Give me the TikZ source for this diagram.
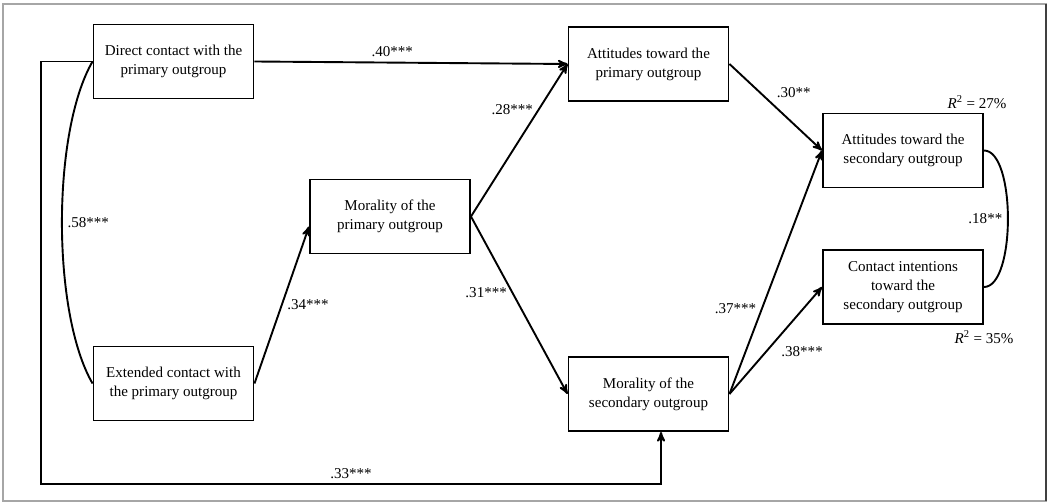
\documentclass[tikz,border=0pt]{standalone}
\usepackage{fontspec}
\setmainfont{Liberation Serif}
\usetikzlibrary{arrows}

\begin{document}
\begin{tikzpicture}[->,>=stealth',x=0.025cm,y=-0.025cm,line width=1.35pt,
  var node/.style={rectangle,draw,align=center,minimum width=4cm,minimum height=1.85cm,
    font=\fontsize{10.7}{13.5}\selectfont}]
  \useasboundingbox (0,0) rectangle (1049,503);
  \draw[-,gray!70,line width=0.8pt] (3,4) rectangle (1046,501);
  \draw[-,black!75,line width=0.9pt] (1046,4) -- (1046,501);

  \node[var node] (dc) at (173.5,61.5) {Direct contact with the\\primary outgroup};
  \node[var node] (ec) at (173.5,383.5) {Extended contact with\\the primary outgroup};
  \node[var node] (mp) at (390,216.5) {Morality of the\\primary outgroup};
  \node[var node] (ap) at (648.5,64) {Attitudes toward the\\primary outgroup};
  \node[var node] (ms) at (648.5,394) {Morality of the\\secondary outgroup};
  \node[var node] (as) at (903,150.5) {Attitudes toward the\\secondary outgroup};
  \node[var node] (ci) at (903,287) {Contact intentions\\toward the\\secondary outgroup};
  \coordinate (corner) at (41,484);

  \path[every node/.style={font=\fontsize{10.7}{13.5}\selectfont}]
    (dc.east) edge node[pos=0.44,above]{.40***} (ap.west)
    (dc.west) edge[-,out=-120,in=120,looseness=0.65] node[midway,right]{.58***} (ec.west)
    (ec.east) edge node[midway,right]{.34***} ([yshift=-0.25cm]mp.west)
    (mp.east) edge node[pos=0.7,left]{.28***} (ap.west)
              edge node[pos=0.43,left]{.31***} (ms.west)
    (ap.east) edge node[pos=0.45,above right]{.30**} (as.west)
    (ms.east) edge node[pos=0.35,left]{.37***} (as.west)
              edge node[midway,below right]{.38***} (ci.west)
    (as.east) edge[-,out=0,in=0,looseness=0.6] node[midway,left]{.18**} (ci.east);
  \draw (dc.west) -| (corner) -| node[pos=0.25,above,font=\fontsize{10.7}{13.5}\selectfont]{.33***} ([xshift=0.3125cm]ms.south);

  \node[font=\fontsize{10.7}{13.5}\selectfont] (r1) at (977,102) {\textit{R}\textsuperscript{2} = 27\%};
  \node[font=\fontsize{10.7}{13.5}\selectfont] (r2) at (984,337) {\textit{R}\textsuperscript{2} = 35\%};
\end{tikzpicture}
\end{document}
